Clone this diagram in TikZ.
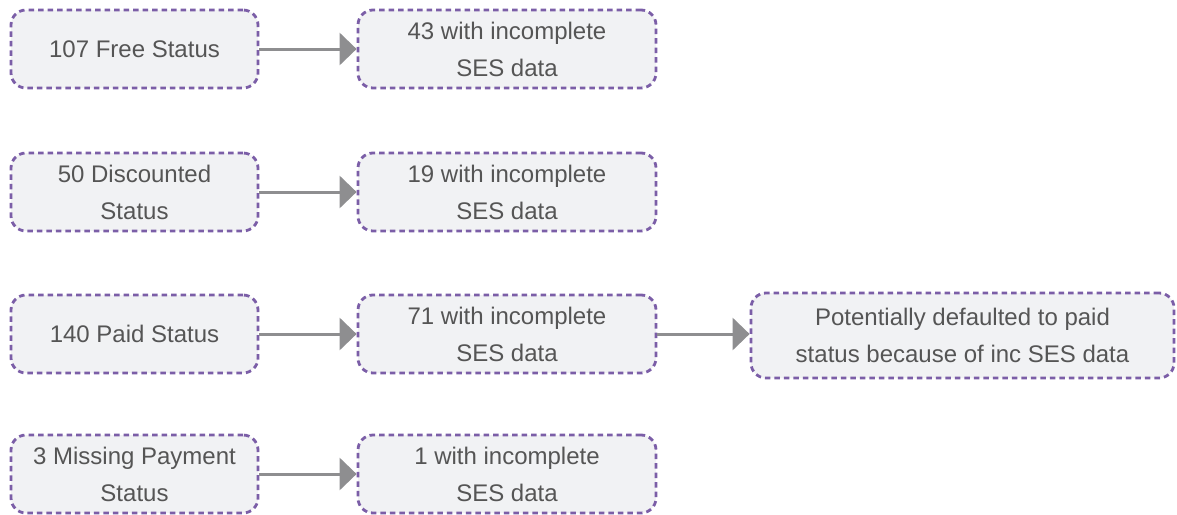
\documentclass[tikz,border=0pt]{standalone}
\usepackage{fontspec}
\setmainfont{Liberation Sans}
\usetikzlibrary{arrows.meta}
\definecolor{boxline}{HTML}{7B5EA7}
\definecolor{boxfill}{HTML}{F1F2F4}
\definecolor{txt}{HTML}{555555}
\definecolor{arr}{HTML}{8E8E90}
\tikzset{
  box/.style={draw=boxline, fill=boxfill, line width=2.8pt, dash pattern=on 5.5pt off 4pt,
    rounded corners=15pt, align=center, text=txt, inner sep=0pt,
    font=\fontsize{24}{37}\selectfont},
  lbox/.style={box, minimum width=247pt, minimum height=78pt},
  mbox/.style={box, minimum width=298pt, minimum height=78pt},
  link/.style={draw=arr, line width=3pt, -{Triangle[length=17pt,width=32pt]}}
}
\begin{document}
\begin{tikzpicture}[x=1pt,y=-1pt]
\useasboundingbox (0,0) rectangle (1177,514);
\node[lbox] (l1) at (134.5,49) {107 Free Status};
\node[lbox] (l2) at (134.5,192) {50 Discounted\\Status};
\node[lbox] (l3) at (134.5,334) {140 Paid Status};
\node[lbox] (l4) at (134.5,474) {3 Missing Payment\\Status};
\node[mbox] (m1) at (507,49) {43 with incomplete\\SES data};
\node[mbox] (m2) at (507,192) {19 with incomplete\\SES data};
\node[mbox] (m3) at (507,334) {71 with incomplete\\SES data};
\node[mbox] (m4) at (507,474) {1 with incomplete\\SES data};
\node[box, minimum width=423pt, minimum height=85pt] (r3) at (962.5,335.5) {Potentially defaulted to paid\\status because of inc SES data};
\draw[link] (l1.east) -- (m1.west);
\draw[link] (l2.east) -- (m2.west);
\draw[link] (l3.east) -- (m3.west);
\draw[link] (l4.east) -- (m4.west);
\draw[link] (m3.east) -- (m3.east -| r3.west);
\end{tikzpicture}
\end{document}
